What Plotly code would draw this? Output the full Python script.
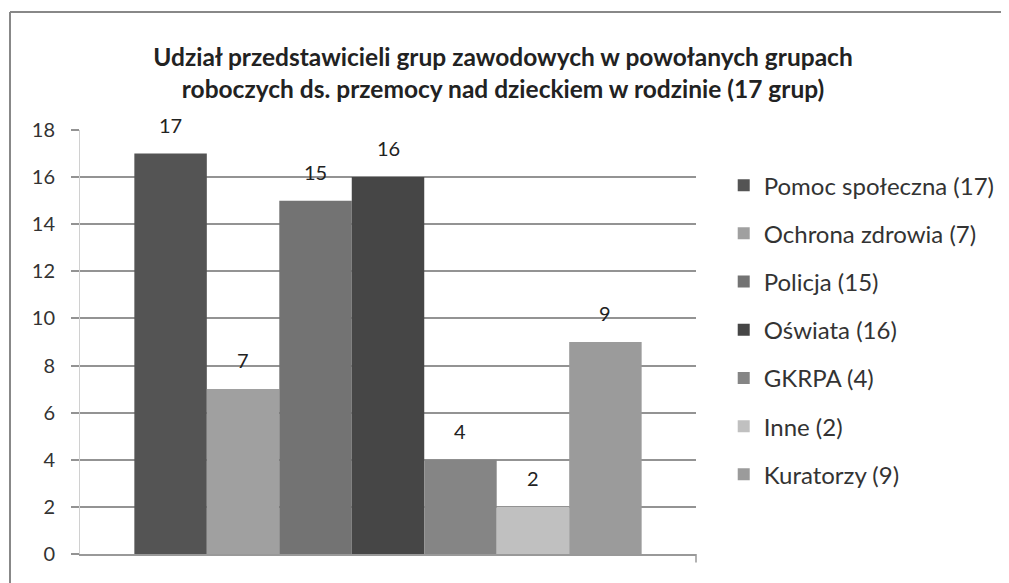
import plotly.graph_objects as go

groups = ["Pomoc społeczna (17)", "Ochrona zdrowia (7)", "Policja (15)", "Oświata (16)",
          "GKRPA (4)", "Inne (2)", "Kuratorzy (9)"]
values = [17, 7, 15, 16, 4, 2, 9]
colors = ["#545454", "#a0a0a0", "#737373", "#464646", "#858585", "#c0c0c0", "#9b9b9b"]
y_ticks = list(range(0, 19, 2))

fig = go.Figure()
for i, (g, v, c) in enumerate(zip(groups, values, colors)):
    fig.add_trace(go.Bar(x=[i], y=[v], width=1, name=g, marker_color=c,
                         marker_line_width=0, legendgroup=g))
    fig.add_annotation(x=i, y=v, text=str(v), showarrow=False, yanchor="middle",
                       yshift=29, font=dict(size=20, color="#222"))

# page has an 8px body margin, so the plot area sits 8px lower/right than the margins say
fig.update_layout(
    width=1009, height=583,
    margin=dict(l=72, r=321, t=122, b=37),
    paper_bgcolor="white", plot_bgcolor="white",
    font=dict(family="Lato, Open Sans, sans-serif", color="#333"),
    barmode="overlay",
    title=dict(text="<b>Udział przedstawicieli grup zawodowych w powołanych grupach<br>"
                    "roboczych ds. przemocy nad dzieckiem w rodzinie (17 grup)</b>",
               x=495 / 1009, xref="container", xanchor="center",
               y=1 - 58 / 583, yanchor="middle",
               font=dict(size=24.5, color="#222")),
    showlegend=True,
    legend=dict(x=1.045, y=0.922, yanchor="top", xanchor="left",
                font=dict(size=24, color="#333"), tracegroupgap=14,
                itemwidth=30),
)
fig.update_xaxes(range=[-1.25, 7.25], showticklabels=False, showgrid=False,
                 showline=True, linecolor="#999", linewidth=1.5, zeroline=False)
fig.update_yaxes(range=[0, 18], tickvals=y_ticks, showgrid=True, gridcolor="#939393",
                 gridwidth=1.5, ticks="outside", ticklen=8, tickcolor="#939393",
                 tickwidth=1.5, ticklabelstandoff=12,
                 showline=True, linecolor="#d0d0d0", linewidth=1, zeroline=False,
                 tickfont=dict(size=20, color="#333"))

# outer chart frame
fx = (2 - 72) / 616
fy = 1 + (122 - 4) / 424
fig.add_shape(type="line", xref="paper", yref="paper", x0=fx, x1=1.6, y0=fy, y1=fy,
              line=dict(color="#888", width=2))
fig.add_shape(type="line", xref="paper", yref="paper", x0=fx, x1=fx, y0=-0.2, y1=fy,
              line=dict(color="#888", width=2))
# small tick at right end of x axis
fig.add_shape(type="line", xref="paper", yref="paper", x0=1, x1=1, y0=0, y1=-0.02,
              line=dict(color="#999", width=1.5))

fig.write_html("out.html")
